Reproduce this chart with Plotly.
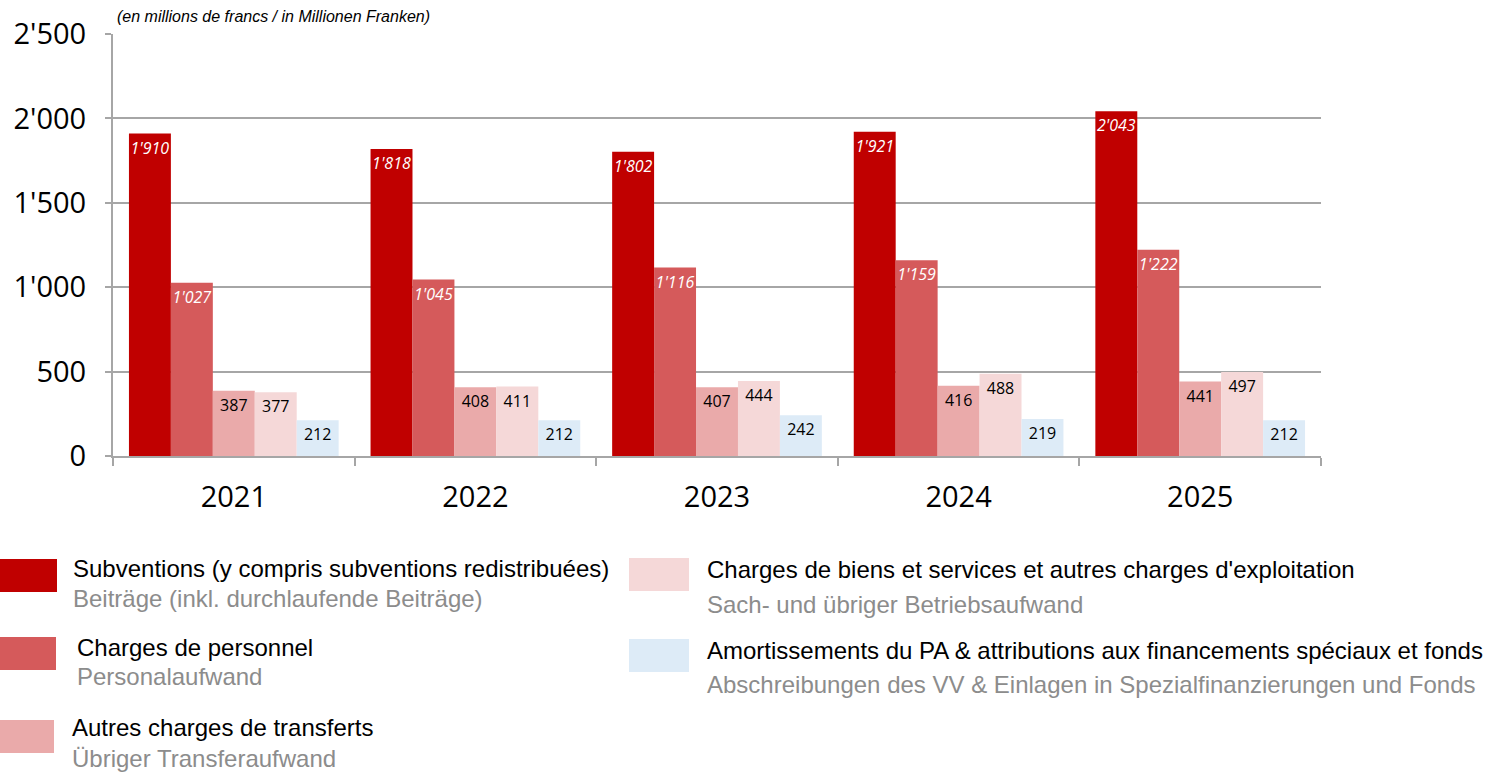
import plotly.graph_objects as go

# data (millions CHF)
years = ["2021", "2022", "2023", "2024", "2025"]
subventions = [1910, 1818, 1802, 1921, 2043]
personnel = [1027, 1045, 1116, 1159, 1222]
autres_transferts = [387, 408, 407, 416, 441]
biens_services = [377, 411, 444, 488, 497]
amortissements = [212, 212, 242, 219, 212]

labels_fr = [
    "Subventions (y compris subventions redistribuées)",
    "Charges de personnel",
    "Autres charges de transferts",
    "Charges de biens et services et autres charges d'exploitation",
    "Amortissements du PA & attributions aux financements spéciaux et fonds",
]
labels_de = [
    "Beiträge (inkl. durchlaufende Beiträge)",
    "Personalaufwand",
    "Übriger Transferaufwand",
    "Sach- und übriger Betriebsaufwand",
    "Abschreibungen des VV & Einlagen in Spezialfinanzierungen und Fonds",
]
colors = ["#C00000", "#D55A5B", "#EAAAAA", "#F5D8D8", "#DDEBF7"]
series = [subventions, personnel, autres_transferts, biens_services, amortissements]

W, H = 1486, 773
L, R, T, B = 113, 165, 34, 317
pw, ph = W - L - R, H - T - B


def px(x):
    return (x - L) / pw


def py(y):
    return (H - B - y) / ph


fig = go.Figure()
for i, vals in enumerate(series):
    red = i < 2
    fig.add_trace(go.Bar(
        x=years, y=vals, name=labels_fr[i],
        marker=dict(color=colors[i], line=dict(width=0)),
        texttemplate="%{y:,d}",
        textposition="inside", insidetextanchor="end", constraintext="none",
        textangle=0,
        textfont=dict(family="Open Sans", size=16,
                      color="white" if red else "black",
                      style="italic" if red else "normal"),
        showlegend=False,
    ))

# custom legend: swatch box (x0, y0, x1, y1), text x, french y, german y
legend_pos = [
    ((0, 559, 57, 592), 71, 568, 598),
    ((0, 637, 56, 670), 75, 647, 676),
    ((0, 720, 54, 753), 70, 727, 758),
    ((629, 558, 689, 591), 705, 569, 604),
    ((629, 639, 689, 672), 705, 650, 684),
]
for i, (box, tx, y_fr, y_de) in enumerate(legend_pos):
    fig.add_shape(type="rect", xref="paper", yref="paper",
                  x0=px(box[0]), x1=px(box[2]), y0=py(box[1]), y1=py(box[3]),
                  fillcolor=colors[i], line=dict(width=0))
    fig.add_annotation(xref="paper", yref="paper", x=px(tx), y=py(y_fr),
                       xanchor="left", yanchor="middle", showarrow=False,
                       text=labels_fr[i],
                       font=dict(family="Liberation Sans", size=24, color="black"))
    fig.add_annotation(xref="paper", yref="paper", x=px(tx), y=py(y_de),
                       xanchor="left", yanchor="middle", showarrow=False,
                       text=labels_de[i],
                       font=dict(family="Liberation Sans", size=24, color="#8C8C8C"))

fig.add_annotation(xref="paper", yref="paper", x=px(115), y=py(17),
                   xanchor="left", yanchor="middle", showarrow=False,
                   text="<i>(en millions de francs / in Millionen Franken)</i>",
                   font=dict(family="Liberation Sans", size=16, color="black"))

fig.update_layout(
    width=W, height=H,
    margin=dict(l=L, r=R, t=T, b=B),
    barmode="group", bargap=0.132, bargroupgap=0,
    plot_bgcolor="white", paper_bgcolor="white",
    separators=".'",
    font=dict(family="Open Sans", color="black"),
    xaxis=dict(
        type="category", showgrid=False, automargin=False,
        showline=True, linecolor="#A6A6A6", linewidth=2,
        ticks="outside", tickson="boundaries", ticklen=8, tickwidth=2,
        tickcolor="#A6A6A6", ticklabelstandoff=14,
        tickfont=dict(family="Open Sans", size=29, color="black"),
    ),
    yaxis=dict(
        range=[0, 2500], tickvals=[0, 500, 1000, 1500, 2000, 2500],
        tickformat=",d", automargin=False,
        showgrid=True, gridcolor="#A6A6A6", gridwidth=2,
        showline=True, linecolor="#A6A6A6", linewidth=2,
        ticks="outside", ticklen=6, tickwidth=2, tickcolor="#A6A6A6",
        ticklabelstandoff=13, zeroline=False,
        tickfont=dict(family="Open Sans", size=29, color="black"),
    ),
)

# page body has a default 8px margin; drop it so the figure fills the window
fig.write_html("out.html", config={"displayModeBar": False},
               post_script="document.body.style.margin='0';")
